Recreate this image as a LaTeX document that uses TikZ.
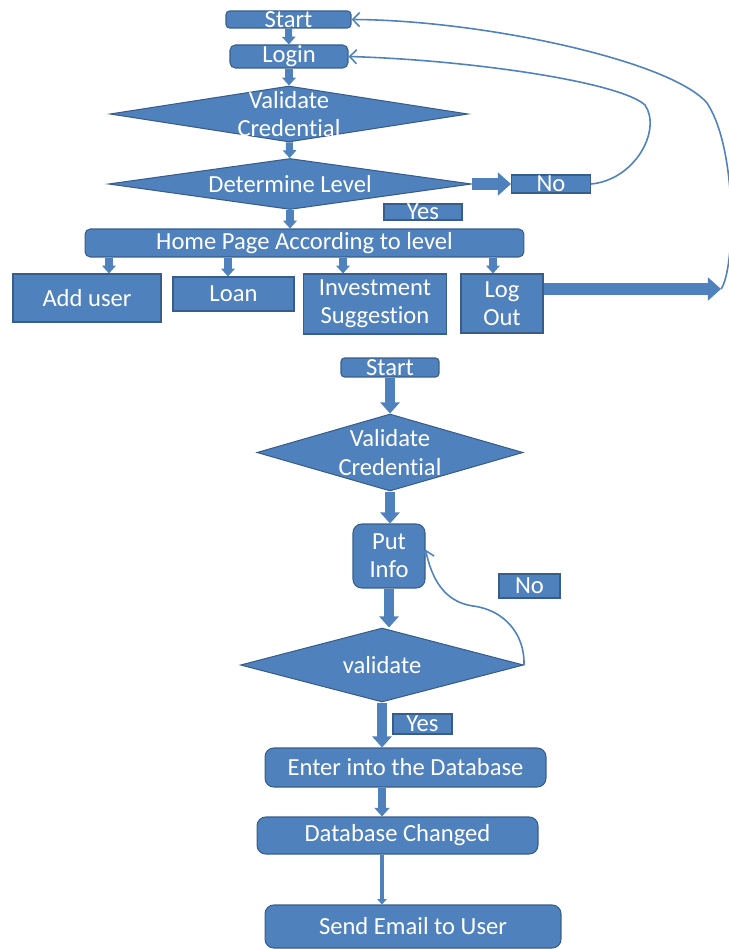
\documentclass[tikz,border=0pt]{standalone}
\usepackage{fontspec}
\setmainfont{Carlito}[Ligatures=NoCommon]
\usetikzlibrary{positioning,shapes.geometric,arrows.meta}
\definecolor{boxBlue}{RGB}{79,129,189}
\definecolor{boxEdge}{RGB}{56,93,138}
\newcommand{\flowfont}{\fontsize{14}{16}\selectfont}
\tikzset{
  flowbox/.style={draw=boxEdge, line width=0.6pt, fill=boxBlue, text=white,
    inner sep=0pt, align=center, font=\flowfont},
  rbox/.style={flowbox, rounded corners=3pt},
  slim/.style={text height=9pt, text depth=0pt},
  decision/.style={diamond, draw=boxEdge, line width=0.6pt, fill=boxBlue, inner sep=0pt},
  dtext/.style={text=white, align=center, font=\flowfont},
  block/.style={draw=boxBlue, line width=#1, -{Triangle[length=0pt 1.1,width=0pt 1.9]}},
  back/.style={draw=boxBlue, line width=0.9pt, -{Straight Barb[length=4pt,width=8pt]}}
}

\begin{document}
\begin{tikzpicture}[x=0.02cm,y=-0.02cm]
  \useasboundingbox (0,0) rectangle (729,949);
  % login flow
  \node[rbox,slim,rounded corners=2pt,minimum width=2.5cm,minimum height=0.34cm] (start1) at (288.5,19.5) {Start};
  \node[rbox,minimum width=2.36cm,minimum height=0.46cm] (login) at (289,56.5) {Login};
  \node[decision,minimum width=7.16cm,minimum height=1.12cm,
    label={[dtext]center:{Validate\\Credential}}] (valid1) at (289,114) {};
  \node[decision,minimum width=7.26cm,minimum height=1.02cm,
    label={[dtext]center:Determine Level}] (determ) at (290,184) {};
  \node[flowbox,slim,minimum width=1.58cm,minimum height=0.36cm] (no1) at (551,184) {No};
  \node[flowbox,slim,minimum width=1.56cm,minimum height=0.32cm] (yes1) at (423,212) {Yes};
  \node[rbox,minimum width=8.78cm,minimum height=0.56cm] (home) at (304.5,243) {Home Page According to level};
  \node[flowbox,minimum width=2.96cm,minimum height=0.96cm] (adduser) at (87,298) {Add user};
  \node[flowbox,minimum width=2.42cm,minimum height=0.68cm] (loan) at (233.5,294) {Loan};
  \node[flowbox,minimum width=2.86cm,minimum height=1.2cm] (invest) at (375,304) {Investment\\Suggestion};
  \node[flowbox,minimum width=1.64cm,minimum height=1.18cm] (logout) at (502,303.5) {Log\\Out};
  \coordinate (lotip) at (721,289);

  \draw[block=4pt] (start1) -- (login);
  \draw[block=4pt] (login) -- (valid1);
  \draw[block=4pt] (valid1) -- (determ);
  \draw[block=4pt] (determ.south) -- (determ.south |- home.north);
  \draw[block=6.8pt] (determ.east) -- (no1.west);
  \foreach \x/\n in {109/adduser,228/loan,343/invest,493/logout}
    \draw[block=4pt] (home.south -| \x,0) -- (\n.north -| \x,0);
  \draw[block=6.8pt] (logout.east |- lotip) -- (lotip);
  \draw[back] (no1.east) .. controls (635,180) and (662,130) .. (645,105)
    .. controls (620,82) and (470,60) .. (login.east);
  \draw[back] (lotip) .. controls (735,270) and (738,150) .. (707,103)
    .. controls (670,60) and (480,20) .. (start1.east);

  % update flow
  \node[rbox,slim,rounded corners=2pt,minimum width=1.96cm,minimum height=0.38cm] (start2) at (390,367.5) {Start};
  \node[decision,minimum width=5.32cm,minimum height=1.54cm,
    label={[dtext]center:{Validate\\Credential}}] (valid2) at (390,452.5) {};
  \node[rbox,rounded corners=5pt,minimum width=1.44cm,minimum height=1.28cm] (putinfo) at (389,556) {Put\\Info};
  \node[flowbox,slim,minimum width=1.22cm,minimum height=0.48cm] (no2) at (529.5,586) {No};
  \node[decision,minimum width=5.66cm,minimum height=1.48cm,
    label={[dtext]center:validate}] (valid3) at (382,665) {};
  \node[flowbox,slim,minimum width=1.18cm,minimum height=0.4cm] (yes2) at (422.5,724) {Yes};
  \node[rbox,rounded corners=5pt,minimum width=5.62cm,minimum height=0.78cm] (enter) at (405.5,767.5) {Enter into the Database};
  \node[rbox,rounded corners=5pt,minimum width=5.62cm,minimum height=0.74cm] (dbchanged) at (397.5,835.5) {Database Changed};
  \node[rbox,rounded corners=5pt,minimum width=5.92cm,minimum height=0.86cm] (email) at (413,926.5) {Send Email to User};

  \draw[block=5.7pt] (start2) -- (valid2);
  \draw[block=5.7pt] (valid2.south) -- (valid2.south |- putinfo.north);
  \draw[block=5.7pt] (putinfo.south) -- (putinfo.south |- valid3.north);
  \draw[block=5.7pt] (valid3.south) -- (valid3.south |- enter.north);
  \draw[block=4.5pt] (enter.south -| valid3) -- (dbchanged.north -| valid3);
  \draw[block=2.8pt] (dbchanged.south -| valid3) -- (email.north -| valid3);
  \draw[back] (valid3.east) .. controls (525,635) and (505,610) .. (473,606)
    .. controls (445,602) and (432,580) .. (putinfo.10);
\end{tikzpicture}
\end{document}
